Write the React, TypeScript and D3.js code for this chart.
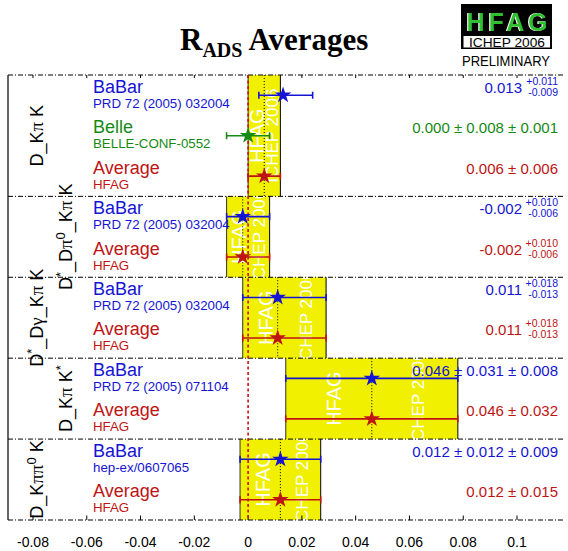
import React from "react";
import * as d3 from "d3";

const sectionLabels = ["D_Kπ K", "D*_Dπ0_Kπ K", "D*_Dγ_Kπ K", "D_Kπ K*", "D_Kππ0 K"];
const sectionSizes = [3, 2, 2, 2, 2];

const entryExperiments = ["BaBar", "Belle", "Average", "BaBar", "Average", "BaBar", "Average", "BaBar", "Average", "BaBar", "Average"];
const entryReferences = [
  "PRD 72 (2005) 032004", "BELLE-CONF-0552", "HFAG",
  "PRD 72 (2005) 032004", "HFAG",
  "PRD 72 (2005) 032004", "HFAG",
  "PRD 72 (2005) 071104", "HFAG",
  "hep-ex/0607065", "HFAG",
];
const entryValues = [0.013, 0.0, 0.006, -0.002, -0.002, 0.011, 0.011, 0.046, 0.046, 0.012, 0.012];
const entryErrPlus = [0.011, 0.008, 0.006, 0.010, 0.010, 0.018, 0.018, 0.032, 0.032, 0.015, 0.015];
const entryErrMinus = [0.009, 0.008, 0.006, 0.006, 0.006, 0.013, 0.013, 0.032, 0.032, 0.015, 0.015];
const entryValueTexts = [
  "0.013", "0.000 ± 0.008 ± 0.001", "0.006 ± 0.006",
  "-0.002", "-0.002",
  "0.011", "0.011",
  "0.046 ± 0.031 ± 0.008", "0.046 ± 0.032",
  "0.012 ± 0.012 ± 0.009", "0.012 ± 0.015",
];
const entryErrUpTexts = ["+0.011", "", "", "+0.010", "+0.010", "+0.018", "+0.018", "", "", "", ""];
const entryErrDownTexts = ["-0.009", "", "", "-0.006", "-0.006", "-0.013", "-0.013", "", "", "", ""];
const xTicks = [-0.08, -0.06, -0.04, -0.02, 0, 0.02, 0.04, 0.06, 0.08, 0.1];

const expColors: Record<string, string> = {
  BaBar: "#1414d2",
  Belle: "#158a15",
  Average: "#be1414",
};

const SANS = "'Liberation Sans', Arial, Helvetica, sans-serif";
const SERIF = "'Liberation Serif', 'Times New Roman', serif";

function labelParts(s: string) {
  const parts: { t: string; kind: string }[] = [];
  for (const ch of s) {
    let kind = "n";
    if (ch === "π" || ch === "γ") kind = "g";
    else if (ch === "*" || ch === "0") kind = "sup";
    const last = parts[parts.length - 1];
    if (last && last.kind === kind && kind === "n") last.t += ch;
    else parts.push({ t: ch, kind });
  }
  return parts;
}

function SectionLabel({ text, x, y }: { text: string; x: number; y: number }) {
  const parts = labelParts(text);
  let shift = 0;
  const spans = parts.map((p, i) => {
    const target = p.kind === "sup" ? -7 : 0;
    const dy = target - shift;
    shift = target;
    return (
      <tspan
        key={i}
        dy={dy}
        fontFamily={p.kind === "g" ? SERIF : SANS}
        fontSize={p.kind === "sup" ? 13 : p.kind === "g" ? 19 : 18}
      >
        {p.t}
      </tspan>
    );
  });
  return (
    <text transform={`translate(${x},${y}) rotate(-90)`} textAnchor="middle" fill="#000">
      {spans}
    </text>
  );
}

export default function App() {
  const W = 568;
  const H = 551;
  const left = 8;
  const right = 563;
  const top = 75;
  const bottom = 520;
  const nEntries = entryValues.length;

  const x = d3.scaleLinear().domain([-0.08, 0.1]).range([33, 517]);
  const y = d3.scaleLinear().domain([0, nEntries]).range([top, bottom]);

  const starPath = d3.symbol(d3.symbolStar, 85)() as string;

  const starts: number[] = [];
  let acc = 0;
  sectionSizes.forEach((s) => {
    starts.push(acc);
    acc += s;
  });
  const boundaries = [...starts, nEntries];

  const sections = sectionSizes.map((s, k) => {
    const i0 = starts[k];
    const avgIdx = i0 + s - 1;
    const v = entryValues[avgIdx];
    const lo = v - entryErrMinus[avgIdx];
    const hi = v + entryErrPlus[avgIdx];
    return { k, i0, i1: i0 + s, v, lo, hi };
  });

  const dashDot = "5,2,1,2";

  return (
    <svg
      width={W}
      height={H}
      style={{ position: "absolute", left: 0, top: 0, background: "#fff" }}
      fontFamily={SANS}
    >
      <rect x={0} y={0} width={W} height={H} fill="#fff" />
      <defs>
        {sections.map((s) => (
          <clipPath id={`band${s.k}`} key={s.k}>
            <rect x={x(s.lo)} y={y(s.i0)} width={x(s.hi) - x(s.lo)} height={y(s.i1) - y(s.i0)} />
          </clipPath>
        ))}
        <filter id="logoShade" x="-10%" y="-10%" width="120%" height="120%">
          <feOffset in="SourceAlpha" dx={-1.5} dy={0} result="off" />
          <feFlood floodColor="#ffffff" result="white" />
          <feComposite in="white" in2="off" operator="in" result="shade" />
          <feMerge>
            <feMergeNode in="shade" />
            <feMergeNode in="SourceGraphic" />
          </feMerge>
        </filter>
      </defs>

      {/* Title */}
      <text x={180} y={50} fontFamily={SERIF} fontWeight="bold" fontSize={31} fill="#000">
        R
        <tspan fontSize={20} dy={7}>ADS</tspan>
        <tspan dy={-7}> Averages</tspan>
      </text>

      {/* HFAG logo */}
      <rect x={461} y={4} width={91} height={45} fill="#000" />
      <rect x={463.5} y={36} width={86.5} height={11.5} fill="#fff" />
      <text
        x={466.5}
        y={31}
        fontFamily={SANS}
        fontWeight="bold"
        fontSize={25}
        fill="#2fc02f"
        textLength={81}
        lengthAdjust="spacing"
        filter="url(#logoShade)"
      >
        HFAG
      </text>
      <text x={507} y={47} textAnchor="middle" fontSize={12} fill="#000" textLength={76} lengthAdjust="spacingAndGlyphs">
        ICHEP 2006
      </text>
      <text x={506} y={66} textAnchor="middle" fontSize={14} fill="#000" textLength={88} lengthAdjust="spacingAndGlyphs">
        PRELIMINARY
      </text>

      {/* Yellow bands */}
      {sections.map((s) => {
        const x0 = x(s.lo);
        const x1 = x(s.hi);
        const w = x1 - x0;
        const cy = (y(s.i0) + y(s.i1)) / 2;
        return (
          <g key={`b${s.k}`}>
            <rect x={x0} y={y(s.i0)} width={w} height={y(s.i1) - y(s.i0)} fill="#f0f000" />
            <g clipPath={`url(#band${s.k})`} fill="#fff">
              <text
                transform={`translate(${x0 + w * 0.28},${cy}) rotate(-90)`}
                textAnchor="middle"
                dominantBaseline="central"
                fontSize={20}
              >
                HFAG
              </text>
              <text
                transform={`translate(${x0 + w * 0.77},${cy}) rotate(-90)`}
                textAnchor="middle"
                dominantBaseline="central"
                fontSize={17}
              >
                ICHEP 2006
              </text>
            </g>
            <line x1={x0} x2={x0} y1={y(s.i0)} y2={y(s.i1)} stroke="#333" strokeWidth={1} />
            <line x1={x1} x2={x1} y1={y(s.i0)} y2={y(s.i1)} stroke="#000" strokeWidth={1} />
            <line x1={x(s.v)} x2={x(s.v)} y1={y(s.i0)} y2={y(s.i1)} stroke="#000" strokeWidth={1} strokeDasharray="1,2" />
          </g>
        );
      })}

      {/* Separators */}
      {boundaries.map((b, i) => (
        <line key={`s${i}`} x1={left} x2={right} y1={y(b)} y2={y(b)} stroke="#000" strokeWidth={1} strokeDasharray={dashDot} />
      ))}
      <line x1={left} x2={left} y1={top} y2={bottom} stroke="#000" strokeWidth={1.2} />

      {/* Ticks */}
      {xTicks.map((t, i) => (
        <g key={`t${i}`}>
          <line x1={x(t)} x2={x(t)} y1={bottom} y2={bottom - 4.5} stroke="#000" strokeWidth={1} />
          <line x1={x(t)} x2={x(t)} y1={top} y2={top + 3} stroke="#000" strokeWidth={1} />
          <text x={x(t)} y={547} textAnchor="middle" fontSize={14} fill="#000">
            {t === 0 ? "0" : String(+t.toFixed(2))}
          </text>
        </g>
      ))}

      {/* Zero line */}
      <line x1={x(0)} x2={x(0)} y1={top} y2={bottom} stroke="#c81414" strokeWidth={1.6} strokeDasharray="3,2.5" />

      {/* Section labels */}
      {sections.map((s) => (
        <SectionLabel
          key={`l${s.k}`}
          text={sectionLabels[s.k]}
          x={s.k % 2 === 0 ? 43 : 72}
          y={(y(s.i0) + y(s.i1)) / 2}
        />
      ))}

      {/* Entries */}
      {entryValues.map((v, i) => {
        const cy = y(i + 0.5);
        const c = expColors[entryExperiments[i]];
        const xl = x(v - entryErrMinus[i]);
        const xr = x(v + entryErrPlus[i]);
        const asym = entryErrUpTexts[i] !== "";
        return (
          <g key={`e${i}`}>
            <text x={93} y={cy - 2.5} fontSize={18} fill={c}>
              {entryExperiments[i]}
            </text>
            <text x={93} y={cy + 12.5} fontSize={13.3} fill={c}>
              {entryReferences[i]}
            </text>
            <line x1={xl} x2={xr} y1={cy} y2={cy} stroke={c} strokeWidth={1.6} />
            <line x1={xl} x2={xl} y1={cy - 3.5} y2={cy + 3.5} stroke={c} strokeWidth={1.6} />
            <line x1={xr} x2={xr} y1={cy - 3.5} y2={cy + 3.5} stroke={c} strokeWidth={1.6} />
            <path d={starPath} transform={`translate(${x(v)},${cy})`} fill={c} />
            {asym ? (
              <g fill={c}>
                <text x={522} y={cy - 2.5} textAnchor="end" fontSize={15}>
                  {entryValueTexts[i]}
                </text>
                <text x={558} y={cy - 10.5} textAnchor="end" fontSize={10.5}>
                  {entryErrUpTexts[i]}
                </text>
                <text x={558} y={cy + 0.5} textAnchor="end" fontSize={10.5}>
                  {entryErrDownTexts[i]}
                </text>
              </g>
            ) : (
              <text x={558} y={cy - 2.5} textAnchor="end" fontSize={15} fill={c}>
                {entryValueTexts[i]}
              </text>
            )}
          </g>
        );
      })}
    </svg>
  );
}
